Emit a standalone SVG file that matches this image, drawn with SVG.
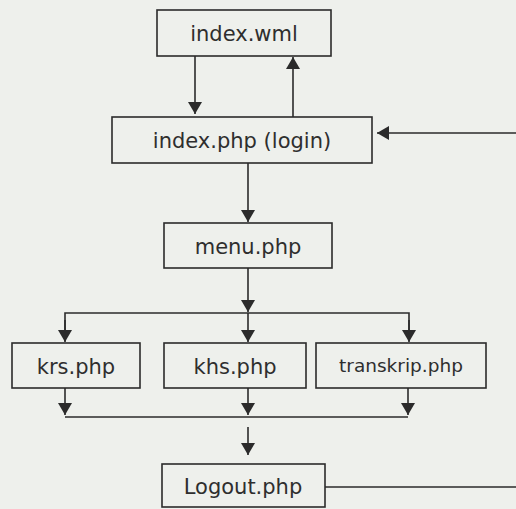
<svg xmlns="http://www.w3.org/2000/svg" width="516" height="509" viewBox="0 0 516 509">
<defs>
<style>
.box{fill:none;stroke:#2b2b2b;stroke-width:1.6}
.lbl{font-family:"DejaVu Sans",Verdana,sans-serif;font-size:21px;fill:#2e2e2e;text-anchor:middle}
.sm{font-size:18.5px}
.ln{fill:none;stroke:#2b2b2b;stroke-width:1.6}
</style>
<marker id="ah" viewBox="0 0 12 14" refX="12" refY="7" markerWidth="12" markerHeight="14" markerUnits="userSpaceOnUse" orient="auto">
<path d="M0,0 L12,7 L0,14 Z" fill="#2b2b2b"/>
</marker>
</defs>
<rect width="516" height="509" fill="#eef0ec"/>
<g id="connectors">
<line class="ln" x1="195" y1="56" x2="195" y2="114" marker-end="url(#ah)"/>
<line class="ln" x1="293" y1="117" x2="293" y2="57" marker-end="url(#ah)"/>
<line class="ln" x1="516" y1="133" x2="377" y2="133" marker-end="url(#ah)"/>
<line class="ln" x1="248" y1="163" x2="248" y2="222" marker-end="url(#ah)"/>
<line class="ln" x1="248" y1="268" x2="248" y2="312" marker-end="url(#ah)"/>
<polyline class="ln" points="65,341 65,313 409,313 409,341"/>
<line class="ln" x1="65" y1="320" x2="65" y2="342" marker-end="url(#ah)"/>
<line class="ln" x1="248" y1="313" x2="248" y2="342" marker-end="url(#ah)"/>
<line class="ln" x1="409" y1="320" x2="409" y2="342" marker-end="url(#ah)"/>
<line class="ln" x1="65" y1="388" x2="65" y2="415" marker-end="url(#ah)"/>
<line class="ln" x1="248" y1="388" x2="248" y2="415" marker-end="url(#ah)"/>
<line class="ln" x1="408" y1="388" x2="408" y2="415" marker-end="url(#ah)"/>
<line class="ln" x1="65" y1="417" x2="408" y2="417"/>
<line class="ln" x1="248" y1="427" x2="248" y2="455" marker-end="url(#ah)"/>
<line class="ln" x1="325" y1="487" x2="516" y2="487"/>
</g>
<g id="index_wml">
<rect class="box" x="157" y="10" width="174" height="46"/>
<text class="lbl" x="244" y="41">index.wml</text>
</g>
<g id="index_php">
<rect class="box" x="112" y="117" width="260" height="46"/>
<text class="lbl" x="242" y="148">index.php (login)</text>
</g>
<g id="menu_php">
<rect class="box" x="164" y="223" width="168" height="45"/>
<text class="lbl" x="248" y="254">menu.php</text>
</g>
<g id="krs_php">
<rect class="box" x="12" y="343" width="128" height="45"/>
<text class="lbl" x="76" y="374">krs.php</text>
</g>
<g id="khs_php">
<rect class="box" x="164" y="343" width="142" height="45"/>
<text class="lbl" x="235" y="374">khs.php</text>
</g>
<g id="transkrip_php">
<rect class="box" x="316" y="343" width="170" height="45"/>
<text class="lbl sm" x="401" y="372">transkrip.php</text>
</g>
<g id="logout_php">
<rect class="box" x="162" y="464" width="163" height="43"/>
<text class="lbl" x="243" y="494">Logout.php</text>
</g>
</svg>
